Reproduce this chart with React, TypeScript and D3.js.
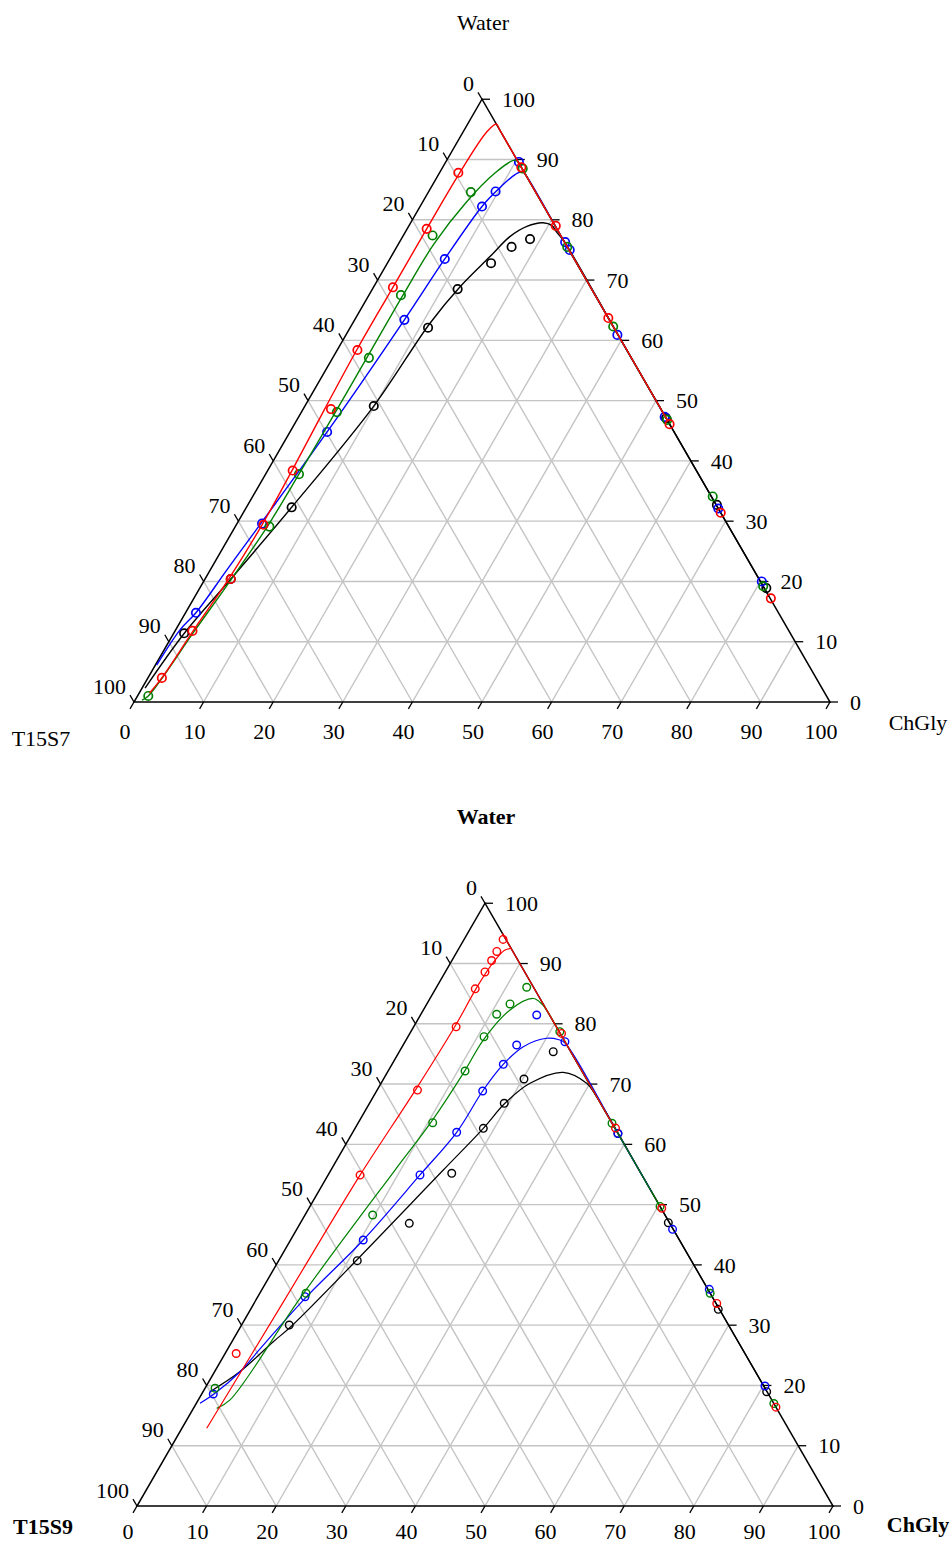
import React from 'react';
import * as d3 from 'd3';

type P = [number, number]; // [ChGly %, Water %]  (T15Sx = 100 - both)

const tickValues: number[] = [0, 10, 20, 30, 40, 50, 60, 70, 80, 90, 100];

// ---------- Chart 1 : T15S7 ----------
const t7BlackPts: P[] = [[18.5, 76.8], [16.5, 75.5], [14.9, 72.8], [12.25, 68.5], [11.2, 62.1], [9.9, 49.1], [6.5, 32.3], [3.7, 20.4], [1.5, 11.4], [52.9, 47.1], [67.4, 32.7], [81.4, 18.9]];
const t7BlackLine: P[] = [[0.44, 2.3], [1.53, 11.4], [3.71, 20.4], [6.5, 32.3], [9.9, 49.1], [11.1, 62.8], [12.4, 68.9], [14.2, 73.9], [15.4, 77.2], [17.0, 78.9], [19.0, 79.5], [20.6, 79.0], [21.7, 78.0], [23.5, 76.5], [39.0, 61.0], [53.0, 47.0], [67.5, 32.5], [82.5, 17.5]];

const t7BluePts: P[] = [[10.5, 89.6], [9.6, 84.7], [8.9, 82.2], [7.9, 73.5], [7.15, 63.4], [5.35, 44.8], [3.6, 29.6], [1.5, 14.8], [23.8, 76.3], [25.1, 75.0], [39.0, 60.9], [52.6, 47.3], [67.9, 32.1], [80.2, 20.0]];
const t7BlueLine: P[] = [[0.2, 6.1], [0.64, 12.0], [1.5, 14.8], [2.4, 22.0], [3.4, 29.5], [5.35, 44.8], [7.15, 63.4], [7.9, 73.5], [8.9, 82.2], [9.7, 84.8], [11.0, 87.5], [11.8, 88.0], [12.6, 87.4], [23.8, 76.2], [39.0, 61.0], [52.6, 47.4]];

const t7GreenPts: P[] = [[6.1, 84.6], [4.2, 77.4], [4.6, 67.5], [5.2, 57.1], [5.1, 48.1], [4.8, 37.8], [4.9, 29.1], [1.55, 1.0], [11.6, 88.5], [24.5, 75.5], [37.7, 62.3], [53.2, 46.8], [66.1, 34.1], [80.8, 19.2]];
const t7GreenLine: P[] = [[1.0, 0.3], [1.55, 1.0], [2.8, 11.8], [3.8, 20.4], [4.6, 29.1], [4.8, 37.8], [4.9, 48.0], [4.9, 57.0], [4.9, 67.5], [5.1, 76.0], [6.3, 83.0], [7.9, 87.6], [9.8, 89.9], [11.0, 89.0], [11.6, 88.4], [24.5, 75.5], [37.7, 62.3], [53.2, 46.8]];

const t7RedPts: P[] = [[2.7, 87.8], [2.8, 78.5], [2.8, 68.8], [2.9, 58.4], [4.0, 48.6], [3.6, 38.4], [3.9, 29.4], [3.7, 20.4], [2.5, 11.8], [2.0, 4.0], [11.3, 88.7], [21.1, 79.0], [36.3, 63.7], [53.9, 46.1], [68.6, 31.4], [82.9, 17.2]];
const t7RedLine: P[] = [[1.5, 1.5], [2.0, 4.0], [2.6, 11.8], [3.4, 20.4], [3.7, 29.4], [3.5, 38.4], [3.1, 48.5], [2.8, 58.4], [2.8, 68.8], [2.8, 78.5], [2.9, 87.8], [3.4, 94.6], [4.1, 95.9], [5.0, 95.0], [11.3, 88.7], [21.1, 78.9], [36.3, 63.7], [53.5, 46.5]];

// ---------- Chart 2 : T15S9 ----------
const t9BlackPts: P[] = [[22.12, 75.37], [20.18, 70.84], [19.36, 66.81], [18.43, 62.66], [17.62, 55.2], [15.67, 46.9], [11.3, 40.7], [6.86, 30.03], [38.2, 61.8], [52.84, 47.0], [67.2, 32.63], [80.99, 18.96]];
const t9BlackLine: P[] = [[1.01, 18.96], [3.66, 22.3], [5.95, 27.26], [7.3, 29.9], [16.14, 55.74], [18.43, 62.66], [19.46, 66.81], [21.4, 70.13], [25.27, 71.95], [29.54, 70.13], [32.1, 67.9], [47.0, 53.0], [67.2, 32.8], [81.0, 19.0]];

const t9BluePts: P[] = [[16.7, 81.46], [16.31, 76.48], [15.99, 73.28], [15.24, 68.85], [14.93, 62.0], [13.2, 54.92], [10.44, 44.13], [6.78, 34.72], [1.67, 18.58], [22.97, 77.03], [38.2, 61.8], [54.0, 45.9], [64.25, 35.95], [80.27, 19.91]];
const t9BlueLine: P[] = [[0.53, 17.04], [1.86, 18.7], [3.66, 22.28], [4.74, 26.43], [6.91, 34.46], [10.44, 44.13], [13.2, 54.92], [14.93, 62.0], [15.24, 68.85], [16.0, 73.3], [17.4, 76.2], [20.06, 77.6], [21.8, 77.4], [23.11, 76.8], [38.2, 61.8], [48.0, 52.0]];

const t9GreenPts: P[] = [[12.96, 86.06], [11.95, 83.29], [10.89, 81.58], [10.93, 77.86], [11.05, 72.17], [10.69, 63.59], [9.72, 48.28], [6.64, 35.29], [1.45, 19.53], [21.4, 78.7], [36.5, 63.5], [50.3, 49.7], [64.7, 35.3], [83.0, 17.0]];
const t9GreenLine: P[] = [[3.35, 16.2], [4.57, 17.6], [6.19, 34.5], [9.2, 55.7], [10.4, 63.6], [11.0, 72.2], [11.1, 77.3], [12.44, 82.3], [14.84, 84.2], [16.5, 83.3], [18.1, 81.9], [21.4, 78.6], [36.5, 63.5], [50.3, 49.7]];

const t9RedPts: P[] = [[5.6, 94.0], [5.7, 92.0], [5.7, 90.5], [5.7, 88.6], [5.7, 85.8], [6.1, 79.5], [5.8, 69.0], [4.6, 54.9], [1.6, 25.3], [21.8, 78.4], [37.4, 62.7], [50.7, 49.4], [66.5, 33.6], [83.6, 16.4]];
const t9RedLine: P[] = [[3.57, 12.9], [4.1, 34.0], [4.6, 54.9], [5.5, 69.0], [5.9, 79.5], [5.8, 85.8], [6.0, 89.5], [6.7, 92.2], [7.5, 92.5]];
const t9RedEdge: P[] = [[5.0, 95.0], [7.5, 92.5], [21.8, 78.2], [37.3, 62.7]];

interface Series { color: string; pts: P[]; lines: P[][] }

const chart1Series: Series[] = [
  { color: '#000000', pts: t7BlackPts, lines: [t7BlackLine] },
  { color: '#0000ff', pts: t7BluePts, lines: [t7BlueLine] },
  { color: '#008000', pts: t7GreenPts, lines: [t7GreenLine] },
  { color: '#ff0000', pts: t7RedPts, lines: [t7RedLine] },
];
const chart2Series: Series[] = [
  { color: '#000000', pts: t9BlackPts, lines: [t9BlackLine] },
  { color: '#0000ff', pts: t9BluePts, lines: [t9BlueLine] },
  { color: '#008000', pts: t9GreenPts, lines: [t9GreenLine] },
  { color: '#ff0000', pts: t9RedPts, lines: [t9RedLine, t9RedEdge] },
];

const FONT = "'Liberation Serif', 'Times New Roman', serif";

interface ChartProps {
  x0: number; yb: number; side: number;
  topTitle: string; leftTitle: string; rightTitle: string;
  topPos: [number, number]; leftPos: [number, number]; rightPos: [number, number];
  bold: boolean; series: Series[]; r: number; cw: number; lw: number; bottomDy: number;
}

function Ternary(p: ChartProps) {
  const H = p.side * Math.sqrt(3) / 2;
  const xs = d3.scaleLinear().domain([0, 100]).range([p.x0, p.x0 + p.side]);
  const ys = d3.scaleLinear().domain([0, 100]).range([p.yb, p.yb - H]);
  const proj = (d: P): [number, number] => [xs(d[0] + d[1] / 2), ys(d[1])];
  const lineGen = d3.line<P>().x(d => proj(d)[0]).y(d => proj(d)[1]).curve(d3.curveCatmullRom.alpha(0.5));
  const inner = tickValues.filter(v => v > 0 && v < 100);
  const tl = 8;
  const s3 = Math.sqrt(3) / 2;
  const A = proj([0, 0]); const B = proj([100, 0]); const C = proj([0, 100]);
  const fs = 22;
  return (
    <g fontFamily={FONT} fontSize={fs} fill="#000">
      {/* grid */}
      <g stroke="#c4c4c4" strokeWidth={1.4}>
        {inner.map(k => {
          const a = proj([0, k]), b = proj([100 - k, k]);
          return <line key={'h' + k} x1={a[0]} y1={a[1]} x2={b[0]} y2={b[1]} />;
        })}
        {inner.map(k => {
          const a = proj([k, 0]), b = proj([k, 100 - k]);
          return <line key={'c' + k} x1={a[0]} y1={a[1]} x2={b[0]} y2={b[1]} />;
        })}
        {inner.map(k => {
          const a = proj([100 - k, 0]), b = proj([0, 100 - k]);
          return <line key={'t' + k} x1={a[0]} y1={a[1]} x2={b[0]} y2={b[1]} />;
        })}
      </g>
      {/* frame */}
      <path d={`M${A[0]},${A[1]}L${B[0]},${B[1]}L${C[0]},${C[1]}Z`} fill="none" stroke="#000" strokeWidth={1.5} />
      {/* ticks */}
      <g stroke="#000" strokeWidth={1.3}>
        {tickValues.map(k => {
          const b = proj([k, 0]);
          const l = proj([0, 100 - k]);
          const rt = proj([100 - k, k]);
          return (
            <g key={'tk' + k}>
              <line x1={b[0]} y1={b[1]} x2={b[0] - 0.5 * tl} y2={b[1] + s3 * tl} />
              <line x1={l[0]} y1={l[1]} x2={l[0] - 0.5 * tl} y2={l[1] - s3 * tl} />
              <line x1={rt[0]} y1={rt[1]} x2={rt[0] + tl} y2={rt[1]} />
            </g>
          );
        })}
      </g>
      {/* tick labels */}
      {tickValues.map(k => {
        const b = proj([k, 0]);
        const l = proj([0, 100 - k]);
        const rt = proj([100 - k, k]);
        return (
          <g key={'lb' + k} stroke="none">
            <text x={b[0] - 9} y={p.yb + p.bottomDy} dy="0.35em" textAnchor="middle">{String(k)}</text>
            <text x={l[0] - 8} y={l[1] - 16} dy="0.35em" textAnchor="end">{String(k)}</text>
            <text x={rt[0] + 20} y={rt[1]} dy="0.35em" textAnchor="start">{String(k)}</text>
          </g>
        );
      })}
      {/* titles */}
      <g fontWeight={p.bold ? 'bold' : 'normal'}>
        <text x={p.topPos[0]} y={p.topPos[1]} dy="0.35em" textAnchor="middle">{p.topTitle}</text>
        <text x={p.leftPos[0]} y={p.leftPos[1]} dy="0.35em" textAnchor="middle">{p.leftTitle}</text>
        <text x={p.rightPos[0]} y={p.rightPos[1]} dy="0.35em" textAnchor="middle">{p.rightTitle}</text>
      </g>
      {/* data */}
      {p.series.map((s, i) => (
        <g key={'s' + i}>
          {s.lines.map((ln, j) => (
            <path key={'l' + j} d={lineGen(ln) || ''} fill="none" stroke={s.color} strokeWidth={p.lw} />
          ))}
          {s.pts.map((d, j) => {
            const q = proj(d);
            return <circle key={'c' + j} cx={q[0]} cy={q[1]} r={p.r} fill="none" stroke={s.color} strokeWidth={p.cw} />;
          })}
        </g>
      ))}
    </g>
  );
}

export default function App() {
  return (
    <svg width={952} height={1544} style={{ position: 'absolute', left: 0, top: 0, background: '#fff' }}>
      <rect x={0} y={0} width={952} height={1544} fill="#fff" />
      <Ternary x0={134} yb={702} side={696} topTitle="Water" leftTitle="T15S7" rightTitle="ChGly"
        topPos={[483, 22]} leftPos={[41, 738]} rightPos={[918, 722]} bold={false}
        series={chart1Series} r={4.2} cw={1.7} lw={1.4} bottomDy={29} />
      <Ternary x0={137} yb={1506} side={696} topTitle="Water" leftTitle="T15S9" rightTitle="ChGly"
        topPos={[486, 816]} leftPos={[43, 1526]} rightPos={[918, 1524]} bold={true}
        series={chart2Series} r={3.8} cw={1.4} lw={1.2} bottomDy={25} />
    </svg>
  );
}
